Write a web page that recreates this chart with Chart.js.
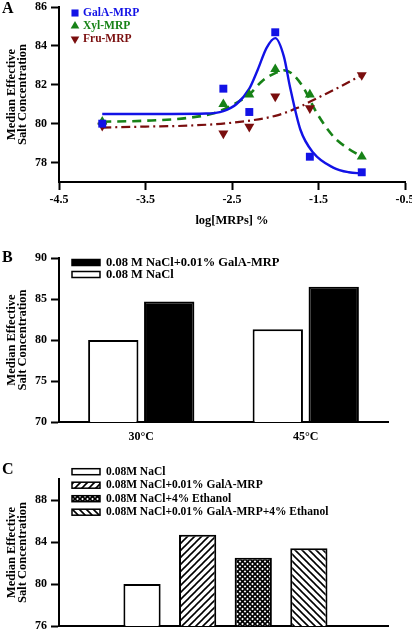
<!DOCTYPE html>
<html>
<head>
<meta charset="utf-8">
<script src="https://cdn.jsdelivr.net/npm/chart.js@4.4.0/dist/chart.umd.min.js"></script>
<style>
  html, body { margin: 0; padding: 0; background: #fff; }
  #wrap { position: relative; width: 412px; height: 631px; }
  canvas { position: absolute; left: 0; }
</style>
</head>
<body>
<div id="wrap">
  <canvas id="chartA" width="412" height="232" style="top:0px"></canvas>
  <canvas id="chartB" width="412" height="212" style="top:232px"></canvas>
  <canvas id="chartC" width="412" height="187" style="top:444px"></canvas>
</div>
<script>
// ---- panel A: salt concentration vs log[MRPs] ----
const seriesA = ['GalA-MRP', 'Xyl-MRP', 'Fru-MRP'];
const logConc = [-4.0, -2.6, -2.3, -2.0, -1.6, -1.0];
const galaPts = [80.0, 81.8, 80.6, 84.7, 78.3, 77.5];
const xylPts = [80.1, 81.0, 81.5, 82.8, 81.5, 78.3];
const fruPts = [79.9, 79.5, 79.85, 81.4, 80.8, 82.5];

// fitted curves
const galaFitX = [-4.0, -3.2, -2.8, -2.6, -2.45, -2.3, -2.2, -2.1, -2.0, -1.9, -1.83, -1.71, -1.56, -1.33, -1.15, -1.0];
const galaFitY = [80.5, 80.5, 80.52, 80.65, 81.0, 81.8, 82.8, 83.9, 84.4, 83.45, 81.9, 79.7, 78.5, 77.74, 77.5, 77.44];
const xylFitX = [-4.0, -3.5, -3.0, -2.7, -2.5, -2.3, -2.15, -2.0, -1.9, -1.8, -1.68, -1.52, -1.33, -1.15, -1.0];
const xylFitY = [80.1, 80.15, 80.3, 80.55, 80.95, 81.5, 82.2, 82.6, 82.75, 82.55, 81.9, 80.55, 79.35, 78.7, 78.3];
const fruFitX = [-4.0, -3.5, -3.0, -2.5, -2.0, -1.75, -1.5, -1.25, -1.0];
const fruFitY = [79.8, 79.85, 79.9, 80.05, 80.4, 80.8, 81.35, 81.9, 82.5];

const xTicksA = [-4.5, -3.5, -2.5, -1.5, -0.5];
const yTicksA = [78, 80, 82, 84, 86];

// ---- panel B: temperature ----
const tempLabels = ['30°C', '45°C'];
const seriesB = ['0.08 M NaCl', '0.08 M NaCl+0.01% GalA-MRP'];
const naclOnly = [80.0, 81.3];
const naclGalA = [84.7, 86.5];
const yTicksB = [70, 75, 80, 85, 90];

// ---- panel C: ethanol ----
const condC = ['0.08M NaCl', '0.08M NaCl+0.01% GalA-MRP', '0.08M NaCl+4% Ethanol', '0.08M NaCl+0.01% GalA-MRP+4% Ethanol'];
const valuesC = [80.0, 84.7, 82.5, 83.4];
const yTicksC = [76, 80, 84, 88];

const serif = '"Liberation Serif", "Times New Roman", serif';
const blue = '#1212e6';
const green = '#178217';
const darkRed = '#7a0e0e';

Chart.defaults.font.family = serif;
Chart.defaults.font.weight = 'bold';
Chart.defaults.font.size = 12;
Chart.defaults.color = '#000';

function hatch(ctx, kind, s, lw) {
  const c = document.createElement('canvas');
  c.width = s; c.height = s;
  const g = c.getContext('2d');
  g.fillStyle = '#fff';
  g.fillRect(0, 0, s, s);
  g.strokeStyle = '#000';
  g.lineWidth = lw;
  const line = (x1, y1, x2, y2) => { g.beginPath(); g.moveTo(x1, y1); g.lineTo(x2, y2); g.stroke(); };
  if (kind === 'up' || kind === 'cross') {
    line(-1, s + 1, s + 1, -1); line(-2, 2, 2, -2); line(s - 2, s + 2, s + 2, s - 2);
  }
  if (kind === 'down' || kind === 'cross') {
    line(-1, -1, s + 1, s + 1); line(s - 2, -2, s + 2, 2); line(-2, s - 2, 2, s + 2);
  }
  return ctx.createPattern(c, 'repeat');
}

// panel letter + legend drawn inside the plot
const panelDecor = {
  id: 'panelDecor',
  afterDraw(chart, args, o) {
    const ctx = chart.ctx;
    ctx.save();
    ctx.textBaseline = 'middle';
    ctx.textAlign = 'left';
    ctx.fillStyle = '#000';
    ctx.font = 'bold 16px ' + serif;
    ctx.fillText(o.letter, o.letterX, o.letterY);
    ctx.font = 'bold ' + o.fontSize + 'px ' + serif;
    o.items.forEach((it, i) => {
      const y = o.top + i * o.gap;
      if (it.pointStyle) {
        ctx.fillStyle = it.color;
        Chart.helpers.drawPoint(ctx, { pointStyle: it.pointStyle, rotation: it.rotation || 0, radius: 5, borderWidth: 0 }, o.x + 4, y);
        ctx.fillStyle = it.color;
        ctx.fillText(it.text, o.x + 12, y);
      } else {
        ctx.fillStyle = it.fill;
        ctx.fillRect(o.x, y - 3, 28, 6);
        ctx.lineWidth = 1.5;
        ctx.strokeStyle = '#000';
        ctx.strokeRect(o.x, y - 3, 28, 6);
        ctx.fillStyle = '#000';
        ctx.fillText(it.text, o.x + 34, y);
      }
    });
    ctx.restore();
  }
};

function yAxis(min, max, ticks) {
  return {
    min: min,
    max: max,
    afterBuildTicks: s => { s.ticks = ticks.map(v => ({ value: v })); },
    afterFit: s => { s.width = 59; s.paddingTop = 0; s.paddingBottom = 0; },
    border: { display: true, color: '#000', width: 2 },
    grid: { display: true, drawOnChartArea: false, drawTicks: true, tickLength: 8, tickWidth: 2, tickColor: '#000' },
    ticks: { color: '#000', padding: 4, font: { size: 12, weight: 'bold' } },
    title: {
      display: true,
      text: ['Median Effective', 'Salt Concentration'],
      color: '#000',
      font: { size: 12.5, weight: 'bold', lineHeight: 0.9 },
      padding: { top: 6, bottom: 0 }
    }
  };
}

const common = {
  responsive: false,
  animation: false,
  devicePixelRatio: 1,
  events: []
};

// ---------- A ----------
const ctxA = document.getElementById('chartA').getContext('2d');
const toXY = (xs, ys) => xs.map((x, i) => ({ x: x, y: ys[i] }));
new Chart(ctxA, {
  type: 'scatter',
  data: {
    datasets: [
      { label: seriesA[0], data: toXY(logConc, galaPts), pointStyle: 'rect', pointRadius: 5.6, backgroundColor: blue, borderWidth: 0 },
      { label: seriesA[1], data: toXY(logConc, xylPts), pointStyle: 'triangle', pointRadius: 5.8, backgroundColor: green, borderWidth: 0 },
      { label: seriesA[2], data: toXY(logConc, fruPts), pointStyle: 'triangle', pointRotation: 180, pointRadius: 5.8, backgroundColor: darkRed, borderWidth: 0 },
      { label: 'fit1', data: toXY(galaFitX, galaFitY), showLine: true, pointRadius: 0, borderColor: blue, borderWidth: 2.4, cubicInterpolationMode: 'monotone' },
      { label: 'fit2', data: toXY(xylFitX, xylFitY), showLine: true, pointRadius: 0, borderColor: green, borderWidth: 2.6, borderDash: [9, 6], cubicInterpolationMode: 'monotone' },
      { label: 'fit3', data: toXY(fruFitX, fruFitY), showLine: true, pointRadius: 0, borderColor: darkRed, borderWidth: 2.2, borderDash: [9, 4, 2, 4], cubicInterpolationMode: 'monotone' }
    ]
  },
  options: Object.assign({}, common, {
    layout: { padding: { top: 7, right: 7, left: 0, bottom: 0 } },
    plugins: {
      legend: { display: false },
      tooltip: { enabled: false },
      panelDecor: {
        letter: 'A', letterX: 2, letterY: 9,
        x: 71, top: 13, gap: 13, fontSize: 11.5,
        items: [
          { text: seriesA[0], color: blue, pointStyle: 'rect' },
          { text: seriesA[1], color: green, pointStyle: 'triangle' },
          { text: seriesA[2], color: darkRed, pointStyle: 'triangle', rotation: 180 }
        ]
      }
    },
    scales: {
      x: {
        type: 'linear',
        min: -4.5,
        max: -0.5,
        afterBuildTicks: s => { s.ticks = xTicksA.map(v => ({ value: v })); },
        afterFit: s => { s.height = 50; s.paddingLeft = 0; s.paddingRight = 0; },
        border: { display: true, color: '#000', width: 2 },
        grid: { display: true, drawOnChartArea: false, drawTicks: true, tickLength: 8, tickWidth: 2, tickColor: '#000' },
        ticks: { color: '#000', padding: 3, font: { size: 12, weight: 'bold' }, callback: v => String(v) },
        title: { display: true, text: 'log[MRPs] %', color: '#000', font: { size: 12.5, weight: 'bold' }, padding: { top: 0, bottom: 4 } }
      },
      y: yAxis(77, 86, yTicksA)
    }
  }),
  plugins: [panelDecor]
});

// ---------- B ----------
const ctxB = document.getElementById('chartB').getContext('2d');
new Chart(ctxB, {
  type: 'bar',
  data: {
    labels: tempLabels,
    datasets: [
      { label: seriesB[0], data: naclOnly, backgroundColor: '#fff', borderColor: '#000', borderWidth: 2 },
      { label: seriesB[1], data: naclGalA, backgroundColor: '#000', borderColor: '#000', borderWidth: 2 }
    ]
  },
  options: Object.assign({}, common, {
    layout: { padding: { top: 26, right: 24, left: 0, bottom: 0 } },
    datasets: { bar: { barPercentage: 0.9, categoryPercentage: 0.68 } },
    plugins: {
      legend: { display: false },
      tooltip: { enabled: false },
      panelDecor: {
        letter: 'B', letterX: 2, letterY: 26,
        x: 72, top: 30.5, gap: 12, fontSize: 12.5,
        items: [
          { text: seriesB[1], fill: '#000' },
          { text: seriesB[0], fill: '#fff' }
        ]
      }
    },
    scales: {
      x: {
        afterFit: s => { s.height = 22; s.paddingLeft = 0; s.paddingRight = 0; },
        border: { display: true, color: '#000', width: 2 },
        grid: { display: false, drawTicks: false },
        ticks: { color: '#000', padding: 8, font: { size: 12, weight: 'bold' } }
      },
      y: yAxis(70, 90, yTicksB)
    }
  }),
  plugins: [panelDecor]
});

// ---------- C ----------
const ctxC = document.getElementById('chartC').getContext('2d');
const fillsC = ['#fff', hatch(ctxC, 'up', 7, 1.6), hatch(ctxC, 'cross', 5, 1.7), hatch(ctxC, 'down', 7, 1.6)];
new Chart(ctxC, {
  type: 'bar',
  data: {
    datasets: [
      {
        label: 'C',
        data: valuesC.map((v, i) => ({ x: i + 1, y: v })),
        backgroundColor: fillsC,
        borderColor: '#000',
        borderWidth: 2,
        barPercentage: 0.72,
        categoryPercentage: 1.0
      }
    ]
  },
  options: Object.assign({}, common, {
    layout: { padding: { top: 35, right: 24, left: 0, bottom: 0 } },
    plugins: {
      legend: { display: false },
      tooltip: { enabled: false },
      panelDecor: {
        letter: 'C', letterX: 2, letterY: 26,
        x: 72, top: 27.7, gap: 13.5, fontSize: 11.5,
        items: condC.map((t, i) => ({ text: t, fill: fillsC[i] }))
      }
    },
    scales: {
      x: {
        type: 'linear',
        min: 0,
        max: 4.93,
        afterFit: s => { s.height = 5; s.paddingLeft = 0; s.paddingRight = 0; },
        border: { display: true, color: '#000', width: 2 },
        grid: { display: false, drawTicks: false },
        ticks: { display: false }
      },
      y: yAxis(76, 90, yTicksC)
    }
  }),
  plugins: [panelDecor]
});
</script>
</body>
</html>
